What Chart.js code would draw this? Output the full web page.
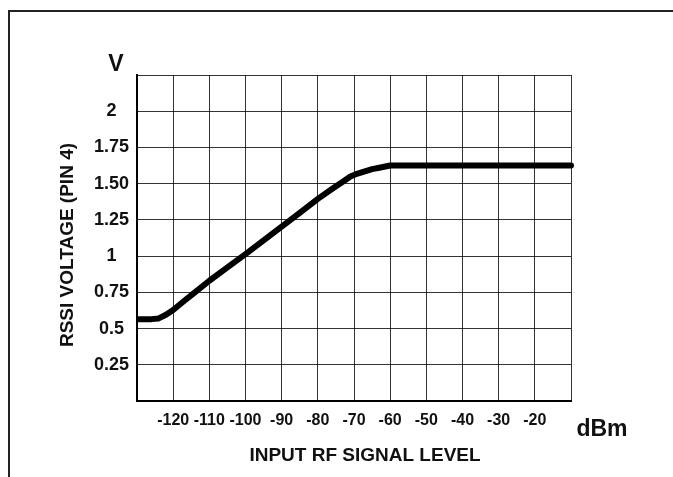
<!DOCTYPE html>
<html>
<head>
<meta charset="utf-8">
<script src="https://cdn.jsdelivr.net/npm/chart.js@4.4.1/dist/chart.umd.min.js"></script>
<style>
  html, body { margin: 0; padding: 0; background: #fff; }
  #wrap { position: relative; width: 673px; height: 477px; }
</style>
</head>
<body>
<div id="wrap"><canvas id="c"></canvas></div>
<script>
// ---- data ----
const inputLevel = [-130, -126, -124, -122, -120, -117, -114, -110, -105, -100, -95, -90, -85, -80, -76, -73, -71, -69, -67, -65, -63, -61, -60, -50, -40, -30, -20, -10];
const rssiVoltage = [0.565, 0.565, 0.57, 0.595, 0.628, 0.69, 0.75, 0.83, 0.922, 1.014, 1.108, 1.203, 1.299, 1.395, 1.465, 1.515, 1.55, 1.57, 1.585, 1.60, 1.61, 1.62, 1.625, 1.625, 1.625, 1.625, 1.625, 1.625];

const xTickValues = [-120, -110, -100, -90, -80, -70, -60, -50, -40, -30, -20];
const xTickLabels = ['-120', '-110', '-100', '-90', '-80', '-70', '-60', '-50', '-40', '-30', '-20'];
const yTickValues = [0.25, 0.5, 0.75, 1, 1.25, 1.5, 1.75, 2];
const yTickLabels = ['0.25', '0.5', '0.75', '1', '1.25', '1.50', '1.75', '2'];

const yUnit = 'V';
const xUnit = 'dBm';
const xTitle = 'INPUT RF SIGNAL LEVEL';
const yTitle = 'RSSI VOLTAGE (PIN 4)';

const FONT = "'Liberation Sans', Arial, Helvetica, sans-serif";

const points = inputLevel.map((x, i) => ({ x: x, y: rssiVoltage[i] }));

function labelFor(values, labels, v) {
  for (let i = 0; i < values.length; i++) {
    if (Math.abs(values[i] - v) < 1e-6) return labels[i];
  }
  return '';
}

const decor = {
  id: 'decor',
  beforeDraw(chart) {
    const ctx = chart.ctx;
    ctx.save();
    ctx.strokeStyle = '#222';
    ctx.lineWidth = 2;
    ctx.beginPath();
    ctx.moveTo(9, 477);
    ctx.lineTo(9, 11);
    ctx.lineTo(673, 11);
    ctx.stroke();
    ctx.restore();
  },
  afterDraw(chart) {
    const ctx = chart.ctx;
    ctx.save();
    ctx.fillStyle = '#111';
    ctx.textAlign = 'center';
    ctx.textBaseline = 'middle';
    ctx.font = 'bold 23px ' + FONT;
    ctx.fillText(yUnit, 116, 65);
    ctx.fillText(xUnit, 602, 430);
    ctx.font = 'bold 19px ' + FONT;
    ctx.fillText(xTitle, 365, 456);
    ctx.translate(68, 245);
    ctx.rotate(-Math.PI / 2);
    ctx.fillText(yTitle, 0, 0);
    ctx.restore();
  }
};

new Chart(document.getElementById('c'), {
  type: 'line',
  data: {
    datasets: [{
      data: points,
      borderColor: '#000',
      borderWidth: 6,
      pointRadius: 0,
      tension: 0,
      borderCapStyle: 'round',
      borderJoinStyle: 'round',
      clip: { left: 0, top: false, right: false, bottom: false }
    }]
  },
  options: {
    responsive: true,
    maintainAspectRatio: false,
    animation: false,
    layout: { padding: { top: 75, right: 102, bottom: 0, left: 0 } },
    plugins: { legend: { display: false }, tooltip: { enabled: false } },
    scales: {
      x: {
        type: 'linear',
        min: -130,
        max: -10,
        afterFit(scale) { scale.height = 76; },
        ticks: {
          stepSize: 10,
          padding: 10,
          maxRotation: 0,
          autoSkip: false,
          color: '#111',
          font: { family: FONT, size: 16, weight: 'bold' },
          callback: (v) => labelFor(xTickValues, xTickLabels, v)
        },
        grid: { color: 'rgba(0,0,0,0.8)', lineWidth: 1, drawTicks: false },
        border: { display: true, color: '#000', width: 2 }
      },
      y: {
        type: 'linear',
        min: 0,
        max: 2.25,
        afterFit(scale) { scale.width = 137; },
        ticks: {
          stepSize: 0.25,
          padding: 8,
          crossAlign: 'center',
          autoSkip: false,
          color: '#111',
          font: { family: FONT, size: 18, weight: 'bold' },
          callback: (v) => labelFor(yTickValues, yTickLabels, v)
        },
        grid: { color: 'rgba(0,0,0,0.8)', lineWidth: 1, drawTicks: false },
        border: { display: true, color: '#000', width: 2 }
      }
    }
  },
  plugins: [decor]
});
</script>
</body>
</html>
